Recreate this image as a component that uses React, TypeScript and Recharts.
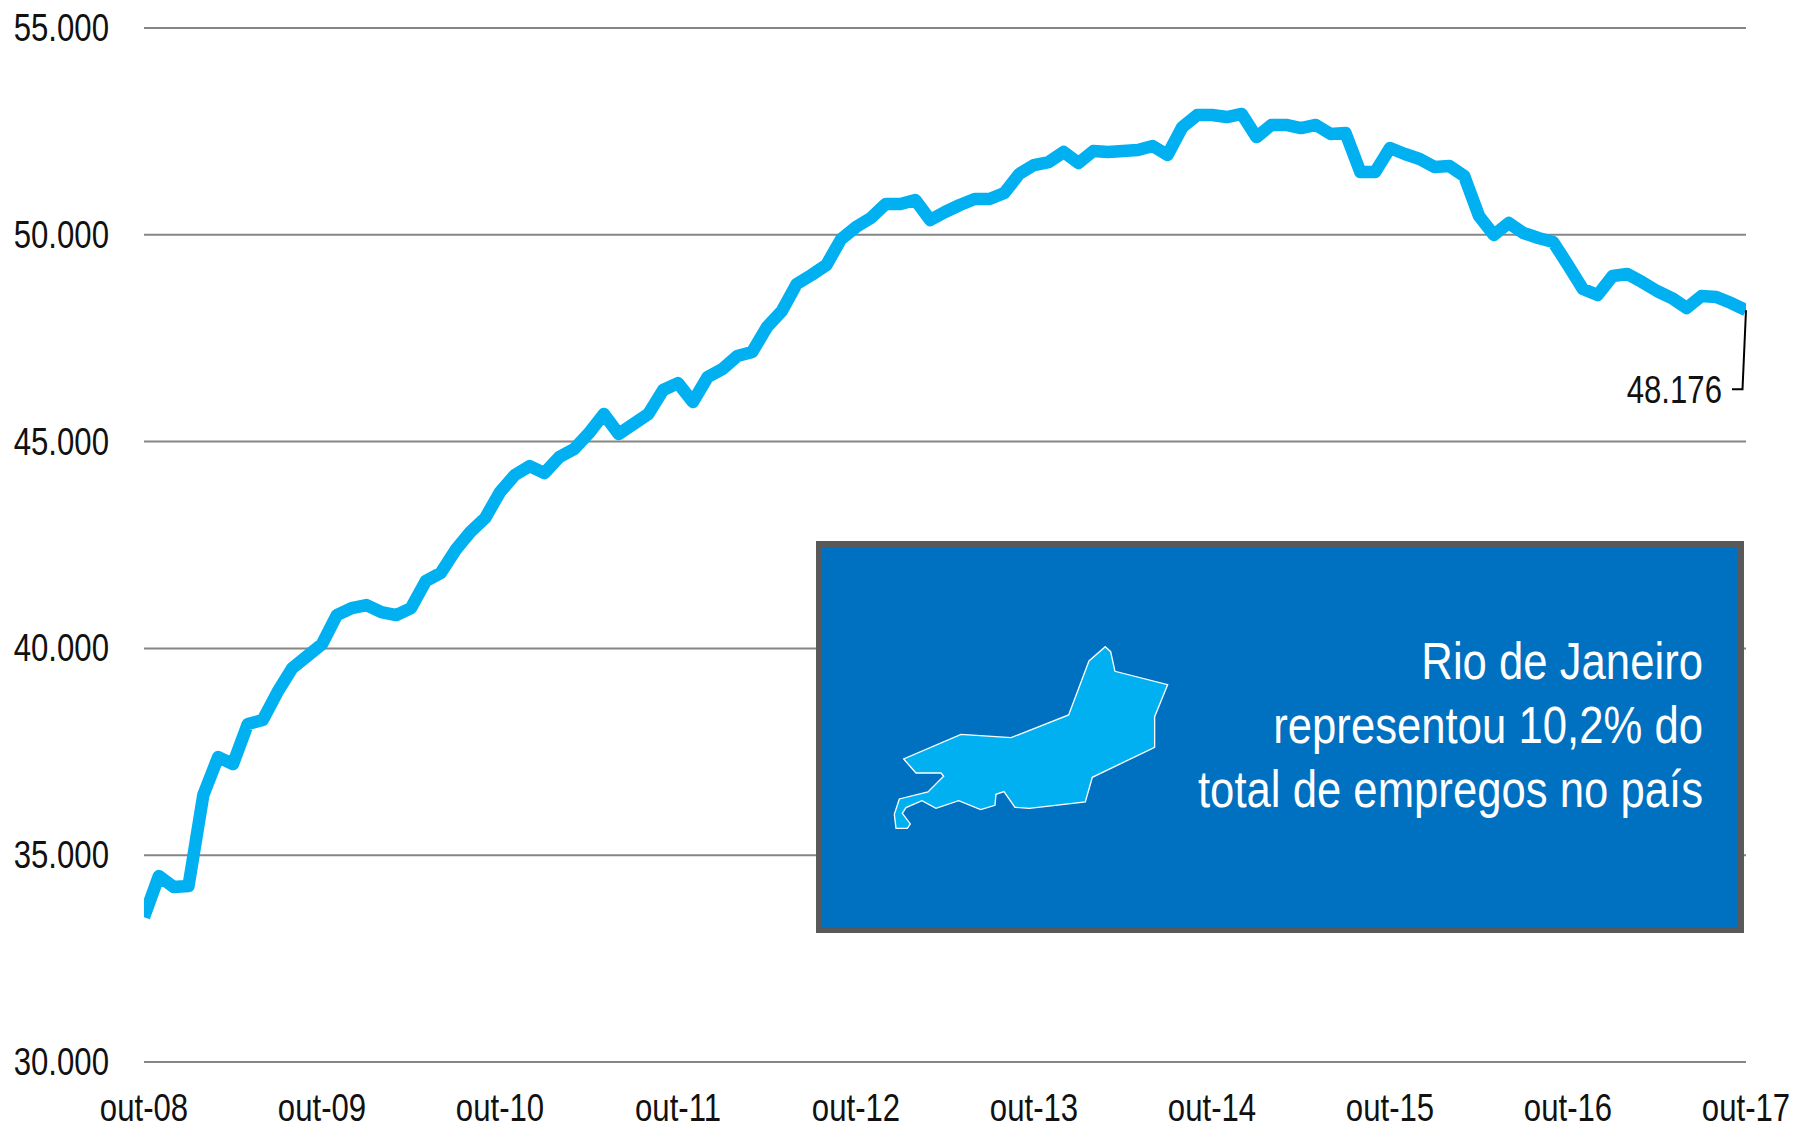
import * as React from "react";
import { LineChart, Line, XAxis, YAxis, CartesianGrid } from "recharts";

const FONT = '"Liberation Sans", Arial, sans-serif';
// the reference type is a horizontally squeezed Arial
const SQUEEZE = 0.82;
const TICK_SIZE = 38;

// ─── Data ─────────────────────────────────────────────────────────────────────

const MONTHS = ["jan", "fev", "mar", "abr", "mai", "jun", "jul", "ago", "set", "out", "nov", "dez"];

// monthly, out-08 to out-17
const categories: string[] = [];
for (let i = 0; i < 109; i++) {
  const m = (9 + i) % 12;
  const y = 8 + Math.floor((9 + i) / 12);
  categories.push(`${MONTHS[m]}-${String(y).padStart(2, "0")}`);
}

const empregos = [
  33500, 34495, 34229, 34254, 36454, 37373, 37204, 38171, 38267, 38944, 39525, 39815,
  40105, 40806, 40976, 41048, 40879, 40806, 40976, 41628, 41822, 42378, 42813, 43152,
  43780, 44192, 44409, 44240, 44627, 44820, 45207, 45667, 45183, 45425, 45667, 46247,
  46416, 45957, 46561, 46755, 47069, 47166, 47770, 48157, 48810, 49028, 49269, 49898,
  50188, 50406, 50744, 50744, 50841, 50357, 50551, 50720, 50865, 50865, 51010, 51470,
  51687, 51760, 52002, 51736, 52026, 52002, 52026, 52050, 52147, 51929, 52606, 52896,
  52896, 52848, 52921, 52364, 52655, 52655, 52582, 52655, 52437, 52461, 51518, 51518,
  52098, 51953, 51832, 51639, 51663, 51421, 50454, 49995, 50285, 50043, 49922, 49825,
  49269, 48689, 48544, 49003, 49052, 48858, 48641, 48471, 48230, 48520, 48495, 48350,
  48176,
];

const xTicks = ["out-08", "out-09", "out-10", "out-11", "out-12", "out-13", "out-14", "out-15", "out-16", "out-17"];
const yTicks = [30000, 35000, 40000, 45000, 50000, 55000];

const calloutLines = ["Rio de Janeiro", "representou 10,2% do", "total de empregos no país"];

const chartData = categories.map((mes, i) => ({ mes, empregos: empregos[i] }));

const fmtMil = (v: number) => (v / 1000).toFixed(3);

// state outline for the callout box
const RJ_SHAPE =
  "856,320 872,335 885,394 1043,434 1004,530 1004,622 817,712 796,786 628,805 585,802 552,755 528,763 525,796 " +
  "482,809 416,782 348,805 306,782 258,803 247,820 271,852 262,865 228,865 223,823 238,777 324,756 371,709 " +
  "363,699 288,699 251,657 423,583 573,593 746,525 807,363";

// ─── Squeezed text pieces ─────────────────────────────────────────────────────

function SqueezedText({ x, y, anchor, size, fill, sx = SQUEEZE, children }: any) {
  return (
    <g transform={`translate(${x} ${y}) scale(${sx} 1)`}>
      <text x={0} y={0} textAnchor={anchor} fontFamily={FONT} fontSize={size} fill={fill}>
        {children}
      </text>
    </g>
  );
}

function XTick({ x, payload }: any) {
  return (
    <SqueezedText x={x} y={1121} anchor="middle" size={TICK_SIZE} fill="#111">
      {payload.value}
    </SqueezedText>
  );
}

function YTick({ x, y, payload }: any) {
  return (
    <SqueezedText x={x} y={y + 13} anchor="end" size={TICK_SIZE} fill="#111">
      {fmtMil(payload.value)}
    </SqueezedText>
  );
}

// ─── Last point label with leader ─────────────────────────────────────────────

function LastLabel({ x, y, index, value }: any) {
  if (index !== empregos.length - 1) return null;
  return (
    <g>
      <polyline points={`${x},${y} ${x - 3.5},${y + 79} ${x - 14},${y + 79}`} fill="none" stroke="#000" strokeWidth={2} />
      <SqueezedText x={x - 24} y={y + 93} anchor="end" size={TICK_SIZE} fill="#111">
        {fmtMil(value)}
      </SqueezedText>
    </g>
  );
}

export default function App() {
  return (
    <div style={{ position: "absolute", left: 0, top: 0, width: 1794, height: 1126, background: "#fff" }}>
      <LineChart
        width={1794}
        height={1126}
        data={chartData}
        margin={{ top: 28, right: 48, bottom: 0, left: 0 }}
      >
        <CartesianGrid vertical={false} stroke="#868686" strokeWidth={2} />
        <XAxis
          dataKey="mes"
          ticks={xTicks}
          interval={0}
          height={64}
          axisLine={false}
          tickLine={false}
          tickSize={0}
          allowDataOverflow
          tick={<XTick />}
        />
        <YAxis
          domain={[30000, 55000]}
          ticks={yTicks}
          width={144}
          axisLine={false}
          tickLine={false}
          tickSize={0}
          tickMargin={35}
          tick={<YTick />}
        />
        <Line
          type="linear"
          dataKey="empregos"
          stroke="#00B0F0"
          strokeWidth={12.5}
          strokeLinejoin="round"
          dot={false}
          label={<LastLabel />}
          isAnimationActive={false}
        />
      </LineChart>

      <svg width={1794} height={1126} style={{ position: "absolute", left: 0, top: 0 }}>
        <rect x={819} y={544} width={922} height={386} fill="#0070C0" stroke="#595959" strokeWidth={6} />
        <g transform="translate(820 540) scale(0.3333)">
          <polygon points={RJ_SHAPE} fill="#00B0F0" stroke="#fff" strokeWidth={4} />
        </g>
        {calloutLines.map((line, i) => (
          <SqueezedText key={line} x={1703} y={679 + i * 64} anchor="end" size={52} fill="#fff" sx={0.84}>
            {line}
          </SqueezedText>
        ))}
      </svg>
    </div>
  );
}
